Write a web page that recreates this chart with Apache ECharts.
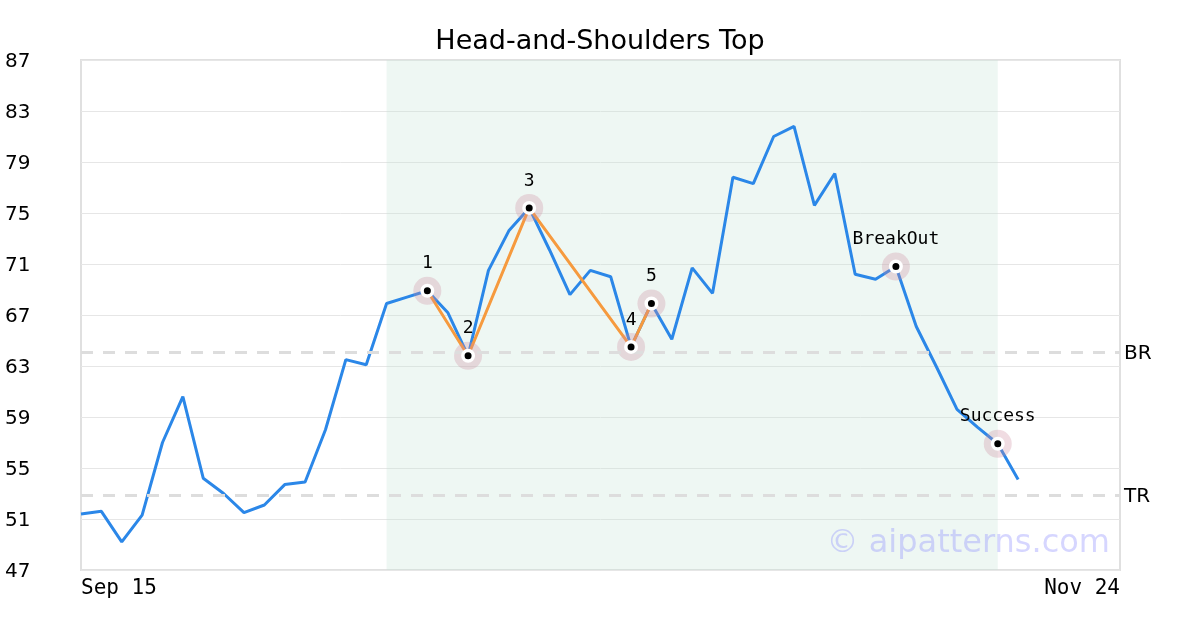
<!DOCTYPE html>
<html>
<head>
<meta charset="utf-8">
<script src="https://cdn.jsdelivr.net/npm/echarts@6/dist/echarts.min.js"></script>
<style>
  html, body { margin: 0; padding: 0; background: #fff; }
  #chart { width: 1200px; height: 630px; }
</style>
</head>
<body>
<div id="chart"></div>
<script>
// trading days shown on the x axis (only first and last are labelled)
var dates = ['Sep 15','Sep 16','Sep 17','Sep 18','Sep 19','Sep 20','Sep 23','Sep 24','Sep 25','Sep 26',
  'Sep 27','Sep 30','Oct 1','Oct 2','Oct 3','Oct 4','Oct 7','Oct 8','Oct 9','Oct 10',
  'Oct 11','Oct 14','Oct 15','Oct 16','Oct 17','Oct 18','Oct 21','Oct 22','Oct 23','Oct 24',
  'Oct 25','Oct 28','Oct 29','Oct 30','Oct 31','Nov 1','Nov 4','Nov 5','Nov 6','Nov 7',
  'Nov 8','Nov 11','Nov 12','Nov 13','Nov 14','Nov 15','Nov 18','Nov 19','Nov 20','Nov 21',
  'Nov 22','Nov 24'];

var price = [51.4, 51.6, 49.2, 51.3, 57.0, 60.6, 54.2, 53.0, 51.5, 52.1,
  53.7, 53.9, 58.0, 63.5, 63.1, 67.9, 68.4, 68.9, 67.2, 63.8,
  70.5, 73.6, 75.4, 72.1, 68.6, 70.5, 70.0, 64.5, 67.9, 65.1,
  70.7, 68.7, 77.8, 77.3, 81.0, 81.8, 75.6, 78.1, 70.2, 69.8,
  70.8, 66.1, 62.9, 59.6, 58.2, 56.9, 54.1];

// head-and-shoulders points (index into price)
var patternIdx = [17, 19, 22, 27, 28];
var patternNames = ['1', '2', '3', '4', '5'];
var signalIdx = [40, 45];
var signalNames = ['BreakOut', 'Success'];

var zoneStart = 15, zoneEnd = 45;
var brLevel = 64.1, trLevel = 52.9;

var patternPts = patternIdx.map(function (i) { return [i, price[i]]; });
var markerPts = patternIdx.map(function (i, k) {
  return { value: [i, price[i]], name: patternNames[k] };
}).concat(signalIdx.map(function (i, k) {
  return { value: [i, price[i]], name: signalNames[k] };
}));

var chart = echarts.init(document.getElementById('chart'));
var mono = 'DejaVu Sans Mono';
var sans = 'DejaVu Sans';
// nudges text ~2px lower, like the reference
var lowText = { fontFamily: sans, fontSize: 20, color: '#000', padding: [4, 0, 0, 0] };

chart.setOption({
  animation: false,
  title: {
    text: 'Head-and-Shoulders Top',
    left: 'center',
    top: 23,
    textStyle: { fontFamily: sans, fontSize: 27, fontWeight: 'normal', color: '#000' }
  },
  grid: {
    left: 81, right: 80, top: 60, bottom: 60,
    show: true, borderColor: '#e0e0e0', borderWidth: 2, backgroundColor: 'transparent'
  },
  xAxis: {
    type: 'category',
    data: dates,
    boundaryGap: false,
    axisLine: { show: false },
    axisTick: { show: false },
    splitLine: { show: false },
    axisLabel: {
      fontFamily: mono, fontSize: 21, color: '#000', margin: 8,
      interval: function (i) { return i === 0 || i === dates.length - 1; },
      alignMinLabel: 'left', alignMaxLabel: 'right'
    }
  },
  yAxis: {
    type: 'value',
    min: 47, max: 87, interval: 4,
    axisLine: { show: false },
    axisTick: { show: false },
    splitLine: { lineStyle: { color: '#e6e6e6', width: 1 } },
    axisLabel: {
      align: 'left', margin: 76,
      formatter: '{v|{value}}',
      rich: { v: lowText }
    }
  },
  graphic: [{
    type: 'text',
    right: 90, bottom: 70,
    style: { text: '© aipatterns.com', fontFamily: sans, fontSize: 32, fill: 'rgba(130,130,255,0.33)' },
    z: 100
  }],
  series: [
    {
      type: 'line',
      data: price,
      symbol: 'none',
      lineStyle: { color: '#2b87e8', width: 3 },
      z: 2,
      markArea: {
        silent: true,
        itemStyle: { color: 'rgba(200,230,215,0.3)' },
        data: [[{ xAxis: zoneStart }, { xAxis: zoneEnd }]]
      },
      markLine: {
        silent: true,
        symbol: 'none',
        lineStyle: { color: '#dddddd', width: 3, type: [12, 10] },
        label: { position: 'end', distance: 4, rich: { v: lowText } },
        data: [
          { yAxis: brLevel, label: { formatter: '{v|BR}' } },
          { yAxis: trLevel, label: { formatter: '{v|TR}' } }
        ]
      }
    },
    {
      type: 'line',
      data: patternPts,
      symbol: 'none',
      lineStyle: { color: '#f69a3e', width: 3 },
      z: 3
    },
    {
      type: 'scatter',
      data: markerPts,
      symbolSize: 28,
      itemStyle: { color: 'rgba(205,140,160,0.3)', opacity: 1 },
      label: {
        show: true, position: 'top', distance: 4,
        formatter: '{b}', fontFamily: mono, fontSize: 18, color: '#000'
      },
      z: 4
    },
    {
      type: 'scatter',
      data: markerPts,
      symbolSize: 10.5,
      itemStyle: { color: '#000', borderColor: '#fff', borderWidth: 3.5, opacity: 1 },
      z: 5
    }
  ]
});
</script>
</body>
</html>
